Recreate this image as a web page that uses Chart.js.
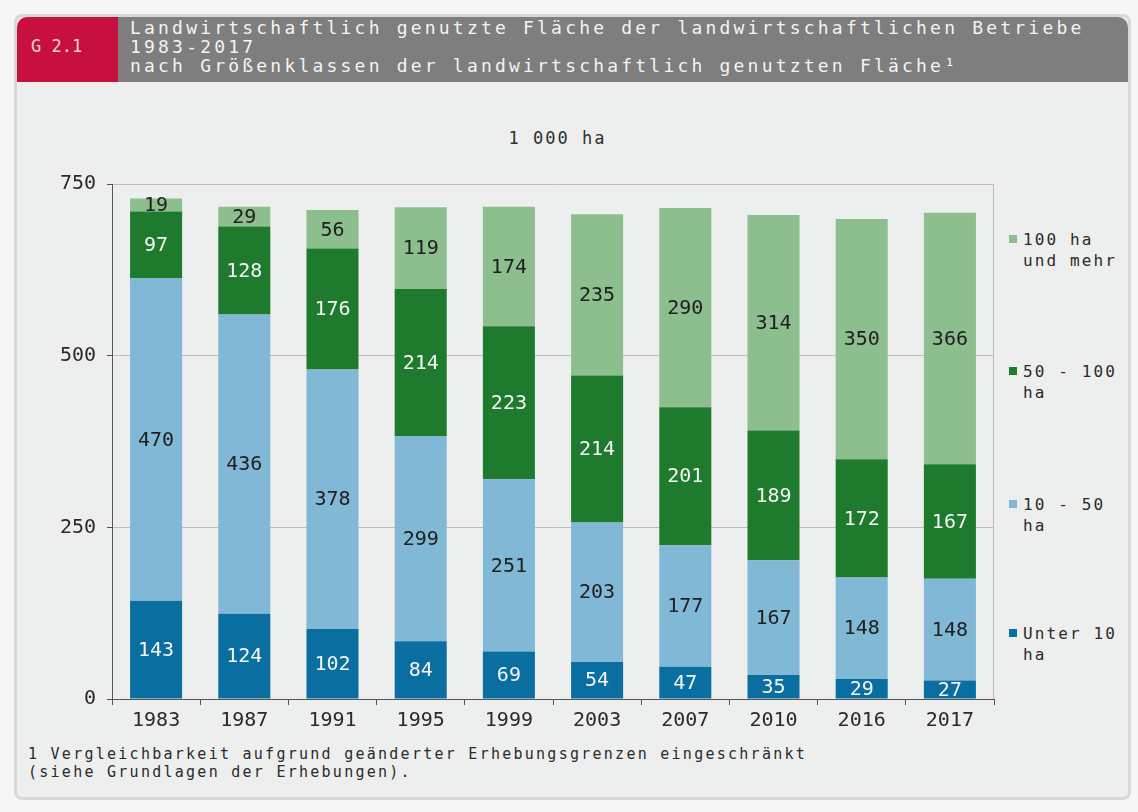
<!DOCTYPE html>
<html lang="de">
<head>
<meta charset="utf-8">
<title>Landwirtschaftlich genutzte Fläche der landwirtschaftlichen Betriebe 1983-2017</title>
<script src="https://cdn.jsdelivr.net/npm/chart.js@4/dist/chart.umd.min.js"></script>
<style>
  html, body { margin: 0; padding: 0; }
  body { width: 1138px; height: 812px; background: #f6f6f6; position: relative; overflow: hidden;
         font-family: "DejaVu Sans Mono", "Liberation Mono", monospace; }
  #panel { position: absolute; left: 14px; top: 14px; width: 1111px; height: 780px;
           border: 3px solid #d8d8d8; border-radius: 8px; background: #edefee; }
  #badge { position: absolute; left: 17px; top: 17px; width: 101px; height: 65px;
           background: #c8103e; border-top-left-radius: 10px; }
  #badge span { position: absolute; left: 14px; top: 20px; font-size: 17px; line-height: 19px;
                color: #f6d2da; white-space: pre; }
  #bar { position: absolute; left: 118px; top: 17px; width: 1010px; height: 65px;
         background: #7e7e7e; border-top-right-radius: 10px; }
  #bar div { position: absolute; left: 12px; top: 1px; font-size: 18px; line-height: 19px;
             letter-spacing: 3.2px; color: #f4f4f4; white-space: pre; }
  #unit { position: absolute; left: 0; width: 1115px; top: 127px; text-align: center;
          font-size: 17px; line-height: 22px; letter-spacing: 2px; color: #2e2e2e; }
  #wrap { position: absolute; left: 0; top: 160px; width: 1000px; height: 580px; }
  .leg { position: absolute; left: 1009px; font-size: 16px; line-height: 21px; letter-spacing: 2.1px;
         color: #2a2a2a; white-space: pre; }
  .leg i { position: absolute; left: 0; top: 6px; width: 8px; height: 8px; }
  .leg span { display: block; margin-left: 14px; }
  #note { position: absolute; left: 28px; top: 745px; font-size: 15px; line-height: 18px;
          letter-spacing: 2.26px; color: #2a2a2a; white-space: pre; }
</style>
</head>
<body>
<div id="panel"></div>
<div id="badge"><span>G 2.1</span></div>
<div id="bar"><div>Landwirtschaftlich genutzte Fläche der landwirtschaftlichen Betriebe
1983-2017
nach Größenklassen der landwirtschaftlich genutzten Fläche¹</div></div>
<div id="unit">1 000 ha</div>
<div id="wrap"><canvas id="chart" width="1000" height="580"></canvas></div>
<div id="legend"></div>
<div id="note">1 Vergleichbarkeit aufgrund geänderter Erhebungsgrenzen eingeschränkt
(siehe Grundlagen der Erhebungen).</div>

<script>
// Erhebungsjahre
const years = ['1983', '1987', '1991', '1995', '1999', '2003', '2007', '2010', '2016', '2017'];

// Landwirtschaftlich genutzte Fläche in 1 000 ha je Größenklasse
const unter10 = [143, 124, 102, 84, 69, 54, 47, 35, 29, 27];
const von10bis50 = [470, 436, 378, 299, 251, 203, 177, 167, 148, 148];
const von50bis100 = [97, 128, 176, 214, 223, 214, 201, 189, 172, 167];
const ab100 = [19, 29, 56, 119, 174, 235, 290, 314, 350, 366];

// Größenklassen (Legende) und Achsenteilung
const classNames = ['Unter 10\nha', '10 - 50\nha', '50 - 100\nha', '100 ha\nund mehr'];
const yTicks = [0, 250, 500, 750];

const colors = ['#0b6ea1', '#80b8d6', '#1e7b2e', '#8dbe8e'];
const labelColors = ['#f4f4f4', '#202020', '#f4f4f4', '#202020'];
const seriesValues = [unter10, von10bis50, von50bis100, ab100];

const FONT = '"DejaVu Sans Mono", "Liberation Mono", monospace';

// Legende rechts neben dem Diagramm
const legendTops = [623, 494, 361, 229];
const legend = document.getElementById('legend');
classNames.forEach((name, i) => {
  const d = document.createElement('div');
  d.className = 'leg';
  d.style.top = legendTops[i] + 'px';
  const sq = document.createElement('i');
  sq.style.background = colors[i];
  const tx = document.createElement('span');
  tx.textContent = name;
  d.appendChild(sq);
  d.appendChild(tx);
  legend.appendChild(d);
});

// Werte in die Balkensegmente schreiben, rechten Rahmen ziehen
const segmentLabels = {
  id: 'segmentLabels',
  afterDatasetsDraw(chart) {
    const ctx = chart.ctx;
    ctx.save();
    ctx.font = '20px ' + FONT;
    ctx.textAlign = 'center';
    ctx.textBaseline = 'middle';
    chart.data.datasets.forEach((ds, di) => {
      const meta = chart.getDatasetMeta(di);
      ctx.fillStyle = labelColors[di];
      meta.data.forEach((bar, i) => {
        const mid = (bar.y + bar.base) / 2;
        ctx.fillText(String(ds.data[i]), bar.x, mid + 1);
      });
    });
    const a = chart.chartArea;
    ctx.strokeStyle = '#bcbcbc';
    ctx.lineWidth = 1;
    ctx.beginPath();
    ctx.moveTo(Math.round(a.right) - 0.5, a.top);
    ctx.lineTo(Math.round(a.right) - 0.5, a.bottom);
    ctx.stroke();
    ctx.restore();
  }
};

new Chart(document.getElementById('chart'), {
  type: 'bar',
  data: {
    labels: years,
    datasets: seriesValues.map((vals, i) => ({
      label: classNames[i].replace('\n', ' '),
      data: vals,
      backgroundColor: colors[i],
      borderWidth: 0,
      categoryPercentage: 1,
      barPercentage: 0.59
    }))
  },
  options: {
    responsive: false,
    animation: false,
    layout: { padding: { top: 24, right: 6, bottom: 0, left: 0 } },
    plugins: { legend: { display: false }, tooltip: { enabled: false } },
    scales: {
      x: {
        stacked: true,
        grid: { display: true, drawOnChartArea: false, offset: true, tickLength: 6, tickColor: '#555' },
        border: { display: true, color: '#555', width: 1 },
        ticks: { color: '#2a2a2a', font: { family: FONT, size: 20 }, padding: 4, maxRotation: 0 },
        afterFit(scale) { scale.height = 41; }
      },
      y: {
        stacked: true,
        min: 0,
        max: 750,
        afterBuildTicks(scale) { scale.ticks = yTicks.map(v => ({ value: v })); },
        grid: { color: '#bcbcbc', lineWidth: 1, tickLength: 5, tickColor: '#555' },
        border: { display: true, color: '#555', width: 1 },
        ticks: { color: '#2a2a2a', font: { family: FONT, size: 20 }, padding: 11 },
        afterFit(scale) { scale.width = 112; }
      }
    }
  },
  plugins: [segmentLabels]
});
</script>
</body>
</html>
